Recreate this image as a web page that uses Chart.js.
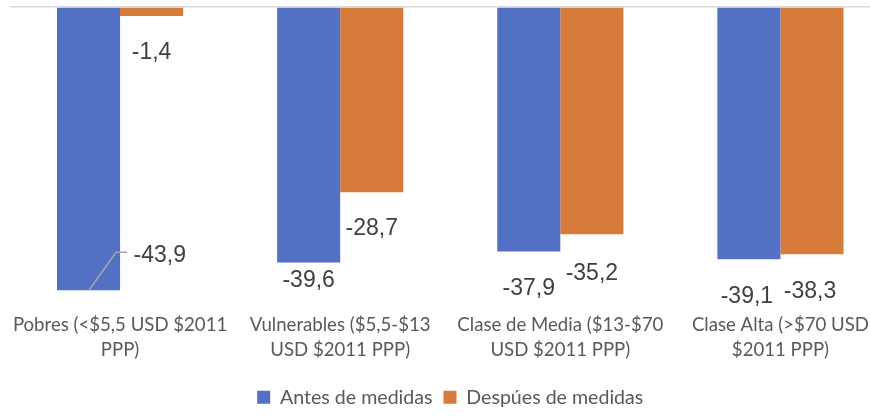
<!DOCTYPE html>
<html><head><meta charset="utf-8">
<script src="https://cdn.jsdelivr.net/npm/chart.js@4/dist/chart.umd.min.js"></script>
<style>
html,body{margin:0;padding:0;background:#fff;overflow:hidden;width:870px;height:417px}
#wrap{position:relative;width:900px;height:417px}
</style></head>
<body><div id="wrap"><canvas id="c" width="900" height="417"></canvas></div>
<script>
const categories = [
  ['Pobres (<$5,5 USD $2011', 'PPP)'],
  ['Vulnerables ($5,5-$13', 'USD $2011 PPP)'],
  ['Clase de Media ($13-$70', 'USD $2011 PPP)'],
  ['Clase Alta (>$70 USD', '$2011 PPP)']
];
const seriesNames = ['Antes de medidas', 'Despúes de medidas'];
const antes = [-43.9, -39.6, -37.9, -39.1];
const despues = [-1.4, -28.7, -35.2, -38.3];

const BLUE = '#5271C4', ORANGE = '#D77B3A';
const catFont = {family: 'Lato, "Open Sans", sans-serif', size: 18.6};

// label placement relative to bar end (styling, not data)
const labelPlacement = [
  [{leader: true, dx: 45, dy: -35}, {dx: 0, dy: 18}, {dx: 0, dy: 37}, {dx: -2, dy: 37}],
  [{dx: 0, dy: 37}, {dx: 0, dy: 36}, {dx: 0, dy: 39}, {dx: -2, dy: 37}]
];

const fmt = v => v.toFixed(1).replace('.', ',');

const valueLabels = {
  id: 'valueLabels',
  afterDatasetsDraw(chart) {
    const ctx = chart.ctx;
    ctx.save();
    ctx.font = '23px "Liberation Sans", Arial, sans-serif';
    ctx.fillStyle = '#404040';
    ctx.textBaseline = 'middle';
    chart.data.datasets.forEach((ds, di) => {
      const meta = chart.getDatasetMeta(di);
      meta.data.forEach((bar, i) => {
        const p = labelPlacement[di][i];
        const txt = fmt(ds.data[i]);
        if (p.leader) {
          ctx.strokeStyle = '#a6a6a6';
          ctx.lineWidth = 1.5;
          ctx.beginPath();
          ctx.moveTo(bar.x + 0.5, bar.y);
          ctx.lineTo(bar.x + 27.5, bar.y - 38);
          ctx.lineTo(bar.x + 38.5, bar.y - 38);
          ctx.stroke();
          ctx.textAlign = 'left';
        } else {
          ctx.textAlign = 'center';
        }
        ctx.fillText(txt, bar.x + p.dx, bar.y + p.dy);
      });
    });
    ctx.restore();
  }
};

new Chart(document.getElementById('c'), {
  type: 'bar',
  data: {
    labels: categories,
    datasets: [
      {label: seriesNames[0], data: antes, backgroundColor: BLUE, categoryPercentage: 0.573, barPercentage: 1.0},
      {label: seriesNames[1], data: despues, backgroundColor: ORANGE, categoryPercentage: 0.573, barPercentage: 1.0}
    ]
  },
  options: {
    responsive: false,
    animation: false,
    layout: {padding: {left: 10, right: 9.5, top: 7, bottom: 0}},
    plugins: {
      tooltip: {enabled: false},
      legend: {
        position: 'bottom',
        labels: {boxWidth: 13, boxHeight: 13, padding: 11, color: '#595959', font: {family: 'Lato, "Open Sans", sans-serif', size: 19.6}}
      }
    },
    scales: {
      x: {
        grid: {display: false},
        border: {display: false},
        ticks: {color: '#595959', font: {...catFont, lineHeight: 1.34}, padding: 7, maxRotation: 0, autoSkip: false},
        afterFit(s) { s.height = 79; }
      },
      y: {
        min: -45, max: 0,
        ticks: {display: false},
        border: {display: false},
        grid: {drawTicks: false, lineWidth: 1.5, color: c => (c.tick && c.tick.value === 0 ? '#d9d9d9' : 'rgba(0,0,0,0)')}
      }
    }
  },
  plugins: [valueLabels]
});
</script>
</body></html>
